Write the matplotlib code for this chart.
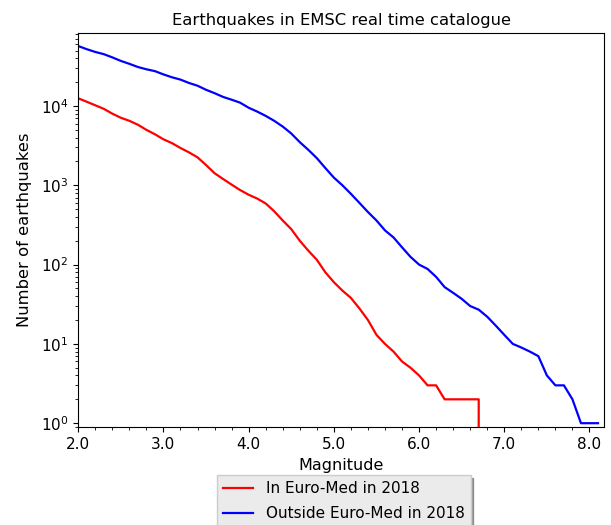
import numpy as np
import matplotlib
matplotlib.use("Agg")
import matplotlib.pyplot as plt
from matplotlib.ticker import MultipleLocator, FormatStrFormatter

# Magnitude bins (cumulative counts, N >= M)
magnitudes = np.round(np.arange(2.0, 8.15, 0.1), 1)

# In Euro-Med, ends at 6.8 with zero events
euromed_mags = magnitudes[magnitudes <= 6.8]
euromed_counts = [12500, 11300, 10200, 9200, 8000, 7100, 6500, 5800, 5000, 4400,
                  3800, 3400, 2950, 2600, 2250, 1800, 1420, 1200, 1020, 870,
                  760, 680, 590, 470, 360, 280, 200, 150, 115, 80,
                  60, 47, 38, 28, 20, 13, 10, 8, 6, 5,
                  4, 3, 3, 2, 2, 2, 2, 2, 0]

outside_counts = [57000, 52000, 48000, 45000, 41000, 37000, 34000, 31000, 29000, 27500,
                  25000, 23000, 21500, 19500, 18000, 16000, 14500, 13000, 12000, 11000,
                  9500, 8500, 7500, 6500, 5500, 4500, 3500, 2800, 2200, 1650,
                  1250, 1000, 780, 600, 460, 360, 270, 220, 165, 125,
                  100, 88, 70, 52, 44, 37, 30, 27, 22, 17,
                  13, 10, 9, 8, 7, 4, 3, 3, 2, 1,
                  1, 1]

fig = plt.figure(figsize=(6.11, 5.25), dpi=100)
ax = fig.add_axes([0.128, 0.187, 0.8605, 0.75])

ax.plot(euromed_mags, euromed_counts, color="red", lw=1.6, label="In Euro-Med in 2018")
ax.plot(magnitudes, outside_counts, color="blue", lw=1.6, label="Outside Euro-Med in 2018")

ax.set_yscale("log")
ax.set_ylim(0.9, 83000)
ax.set_xlim(2.0, 8.17)
ax.xaxis.set_major_locator(MultipleLocator(1.0))
ax.xaxis.set_minor_locator(MultipleLocator(0.2))
ax.xaxis.set_major_formatter(FormatStrFormatter("%.1f"))
ax.tick_params(labelsize=11)

ax.set_title("Earthquakes in EMSC real time catalogue", fontsize=11.8)
ax.set_xlabel("Magnitude", fontsize=11.5, labelpad=5)
ax.set_ylabel("Number of earthquakes", fontsize=11.8, labelpad=6)

ax.legend(loc="upper center", bbox_to_anchor=(0.505, -0.122), borderaxespad=0,
          fontsize=11, labelspacing=0.65, shadow=True, fancybox=False,
          facecolor="#ebebeb", edgecolor="#cccccc", framealpha=1)

fig.savefig("out.png", dpi=100)
